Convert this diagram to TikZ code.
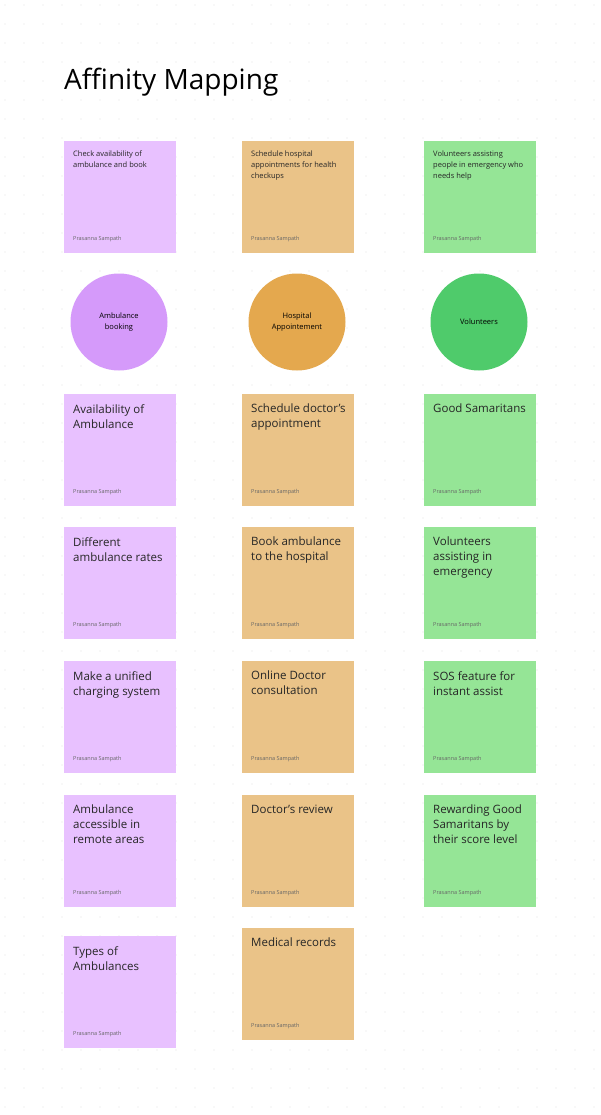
\documentclass[tikz,border=0pt]{standalone}
\usepackage{fontspec}
\setmainfont{Open Sans}
\usetikzlibrary{positioning}
\definecolor{lilac}{HTML}{E8C1FF}
\definecolor{sand}{HTML}{EAC388}
\definecolor{mint}{HTML}{95E596}
\definecolor{lilacdark}{HTML}{D59AFA}
\definecolor{sanddark}{HTML}{E4A84E}
\definecolor{mintdark}{HTML}{4FCB6B}
\begin{document}
\begin{tikzpicture}[x=1pt, y=-1pt,
    note/.style = {minimum width=112pt, minimum height=112pt, anchor=north west, inner sep=0pt},
    small/.style = {anchor=north west, align=left, font=\fontsize{7.5}{11}\selectfont, inner sep=0pt, text=black!85},
    big/.style = {anchor=north west, align=left, font=\fontsize{11.5}{15}\selectfont, inner sep=0pt, text=black!85},
    author/.style = {anchor=south west, font=\fontsize{5.5}{6}\selectfont, inner sep=0pt, text=black!60},
    circ/.style = {circle, minimum size=97pt, align=center, font=\fontsize{7.5}{11}\selectfont, inner sep=0pt}]
\useasboundingbox (0,0) rectangle (600,1115);
\fill[white] (0,0) rectangle (600,1115);
\foreach \i in {0,...,31} \foreach \j in {0,...,58}
  \fill[black!10] (5+19*\i, 5+19*\j) circle (0.6pt);
\node[font=\fontsize{28}{32}\selectfont, anchor=west, inner sep=0pt] (title) at (64,82) {Affinity Mapping};
% top row
\foreach \x/\c/\t/\n in {64/lilac/{Check availability of\\ambulance and book}/p,
    242/sand/{Schedule hospital\\appointments for health\\checkups}/o,
    424/mint/{Volunteers assisting\\people in emergency who\\needs help}/g} {
  \node[note, fill=\c] (top\n) at (\x,141) {};
  \node[small] (toptext\n) at (\x+9,151) {\t};
  \node[author] (topauth\n) at (\x+9,242) {Prasanna Sampath};
}
% groups
\node[circ, fill=lilacdark] (ambulance) at (119,322) {Ambulance\\booking};
\node[circ, fill=sanddark] (hospital) at (297,322) {Hospital\\Appointement};
\node[circ, fill=mintdark] (volunteers) at (479,322) {Volunteers};
% notes
\foreach \x/\y/\c/\t/\n in {
    64/394/lilac/{Availability of\\Ambulance}/p1,
    64/527/lilac/{Different\\ambulance rates}/p2,
    64/661/lilac/{Make a unified\\charging system}/p3,
    64/795/lilac/{Ambulance\\accessible in\\remote areas}/p4,
    64/936/lilac/{Types of\\Ambulances}/p5,
    242/394/sand/{Schedule doctor's\\appointment}/o1,
    242/527/sand/{Book ambulance\\to the hospital}/o2,
    242/661/sand/{Online Doctor\\consultation}/o3,
    242/795/sand/{Doctor's review}/o4,
    242/928/sand/{Medical records}/o5,
    424/394/mint/{Good Samaritans}/g1,
    424/527/mint/{Volunteers\\assisting in\\emergency}/g2,
    424/661/mint/{SOS feature for\\instant assist}/g3,
    424/795/mint/{Rewarding Good\\Samaritans by\\their score level}/g4} {
  \node[note, fill=\c] (note\n) at (\x,\y) {};
  \node[big] (text\n) at (\x+9,\y+10) {\t};
  \node[author] (auth\n) at (\x+9,\y+101) {Prasanna Sampath};
}
\end{tikzpicture}
\end{document}
